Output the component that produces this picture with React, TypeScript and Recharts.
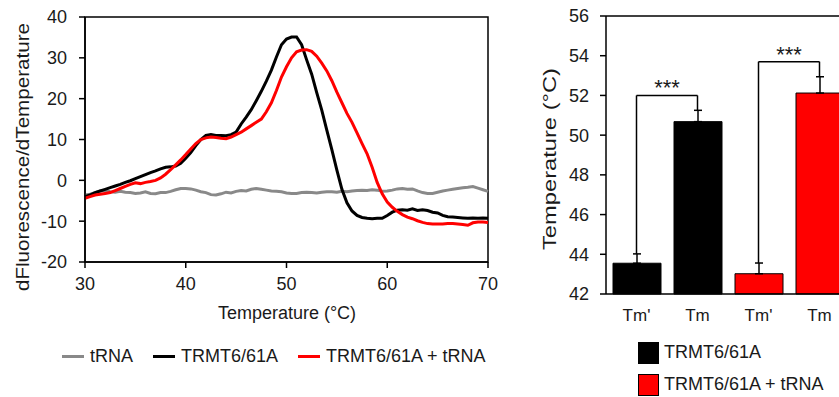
import React from 'react';
import {
  LineChart, Line, XAxis, YAxis, ReferenceArea, Legend,
  BarChart, Bar, Cell, ErrorBar, ReferenceLine,
} from 'recharts';

// ---------- Left panel data ----------
const temps = [
  30, 30.5, 31, 31.5, 32, 32.5, 33, 33.5, 34, 34.5,
  35, 35.5, 36, 36.5, 37, 37.5, 38, 38.5, 39, 39.5,
  40, 40.5, 41, 41.5, 42, 42.5, 43, 43.5, 44, 44.5,
  45, 45.5, 46, 46.5, 47, 47.5, 48, 48.5, 49, 49.5,
  50, 50.5, 51, 51.5, 52, 52.5, 53, 53.5, 54, 54.5,
  55, 55.5, 56, 56.5, 57, 57.5, 58, 58.5, 59, 59.5,
  60, 60.5, 61, 61.5, 62, 62.5, 63, 63.5, 64, 64.5,
  65, 65.5, 66, 66.5, 67, 67.5, 68, 68.5, 69, 69.5,
  70,
];
const tRNA = [
  -3.6, -3.4, -3.0, -2.6, -2.5, -2.8, -2.9, -2.7, -2.9, -3.0,
  -3.2, -3.1, -2.8, -3.2, -3.3, -3.0, -3.0, -2.7, -2.3, -2.0,
  -2.0, -2.1, -2.4, -2.8, -3.0, -3.5, -3.6, -3.3, -2.9, -3.1,
  -2.7, -2.5, -2.6, -2.2, -2.0, -2.2, -2.4, -2.6, -2.7, -2.8,
  -3.1, -3.2, -3.2, -3.0, -2.9, -3.0, -3.1, -2.9, -2.8, -2.8,
  -2.9, -2.7, -2.8, -2.6, -2.5, -2.4, -2.5, -2.3, -2.4, -2.7,
  -2.6, -2.4, -2.1, -2.0, -2.2, -2.1, -2.6, -3.0, -3.2, -3.2,
  -2.9, -2.6, -2.4, -2.2, -2.0, -1.8, -1.7, -1.5, -1.9, -2.3,
  -2.7,
];
const trmt = [
  -4.0, -3.6, -3.0, -2.6, -2.2, -1.8, -1.4, -1.0, -0.5, -0.1,
  0.4, 0.9, 1.4, 1.9, 2.3, 2.8, 3.2, 3.3, 3.5, 4.2,
  5.4, 6.8, 8.5, 10.0, 11.0, 11.2, 11.0, 11.0, 10.9, 11.2,
  11.8, 13.8, 15.5, 17.3, 19.5, 21.8, 24.3, 27.0, 30.2, 33.2,
  34.6, 35.1, 35.1, 33.2, 29.5, 26.0, 21.5, 17.2, 12.3, 7.5,
  2.5, -2.2, -5.5, -7.5, -8.6, -9.1, -9.3, -9.4, -9.3, -9.3,
  -8.6, -7.8, -7.3, -7.2, -7.3, -7.0, -7.4, -7.2, -7.4, -7.8,
  -8.0, -8.6, -8.9, -9.0, -9.1, -9.2, -9.3, -9.2, -9.3, -9.2,
  -9.3,
];
const trmtTRNA = [
  -4.4, -4.0, -3.6, -3.4, -3.2, -3.0, -2.5, -2.0, -1.5, -1.0,
  -0.6, -0.8, -0.5, -0.3, 0.0, 0.6, 1.5, 2.6, 3.8, 5.0,
  6.3, 7.7, 9.0, 10.0, 10.4, 10.6, 10.5, 10.3, 10.2, 10.6,
  11.2, 11.8, 12.6, 13.4, 14.2, 15.0, 16.8, 19.0, 22.0, 25.3,
  27.8, 30.0, 31.5, 31.9, 32.0, 31.6, 30.4, 28.7, 26.8, 24.4,
  21.6, 19.0, 16.4, 14.2, 11.6, 9.0, 6.5, 3.2, -0.5, -3.3,
  -5.3, -6.6, -7.6, -8.4, -9.0, -9.4, -9.9, -10.3, -10.6, -10.7,
  -10.7, -10.7, -10.6, -10.6, -10.7, -10.8, -11.0, -10.4, -10.2, -10.2,
  -10.3,
];
const xTicks = [30, 40, 50, 60, 70];
const yTicks = [-20, -10, 0, 10, 20, 30, 40];
const lineSeries = [
  { key: 'tRNA', name: 'tRNA', color: '#898989' },
  { key: 'trmt', name: 'TRMT6/61A', color: '#000000' },
  { key: 'trmtTRNA', name: 'TRMT6/61A + tRNA', color: '#ff0000' },
];

// ---------- Right panel data ----------
const barIds = ['a', 'b', 'c', 'd'];
const barLabels = ["Tm'", 'Tm', "Tm'", 'Tm'];
const barValues = [43.55, 50.68, 43.02, 52.12];
const barErrors = [0.47, 0.57, 0.54, 0.82];
const barGroups = [0, 0, 1, 1];
const groupNames = ['TRMT6/61A', 'TRMT6/61A + tRNA'];
const groupColors = ['#000000', '#ff0000'];
const barTicks = [42, 44, 46, 48, 50, 52, 54, 56];
const bracketPairs = [[0, 1], [2, 3]];
const bracketHeights = [52.0, 53.7];
const sigLabels = ['***', '***'];

const FONT = '"Liberation Sans", Arial, sans-serif';
const TEXT = '#1a1a1a';

const lineData = temps.map((t, i) => ({
  t,
  tRNA: tRNA[i],
  trmt: trmt[i],
  trmtTRNA: trmtTRNA[i],
}));

const barData = barIds.map((id, i) => ({
  id,
  value: barValues[i],
  err: [0, barErrors[i]],
}));

const LeftLegend = () => (
  <div style={{ display: 'flex', alignItems: 'center', fontFamily: FONT, fontSize: 18, color: TEXT, whiteSpace: 'nowrap' }}>
    {lineSeries.map((s, i) => (
      <div key={s.key} style={{ display: 'flex', alignItems: 'center', marginRight: i < lineSeries.length - 1 ? 20 : 0 }}>
        <div style={{ width: 22, height: 3, background: s.color, marginRight: 6 }} />
        <span>{s.name}</span>
      </div>
    ))}
  </div>
);

const RightLegend = () => (
  <div style={{ fontFamily: FONT, fontSize: 18, color: TEXT, whiteSpace: 'nowrap' }}>
    {groupNames.map((n, i) => (
      <div key={n} style={{ display: 'flex', alignItems: 'center', height: 21, marginBottom: 11 }}>
        <div style={{ width: 19, height: 20, background: groupColors[i], border: '1px solid #000', marginRight: 5 }} />
        <span>{n}</span>
      </div>
    ))}
  </div>
);

export default function App() {
  return (
    <div style={{ position: 'fixed', left: 0, top: 0, width: 839, height: 397, overflow: 'hidden', background: '#fff', fontFamily: FONT }}>
      <div style={{ position: 'absolute', left: 0, top: 0 }}>
        <LineChart width={500} height={397} data={lineData} margin={{ top: 17, right: 12, bottom: 105, left: 40 }}>
          <ReferenceArea x1={30} x2={70} y1={-20} y2={40} fill="none" stroke="#000" strokeWidth={1.5} ifOverflow="visible" />
          <XAxis
            type="number"
            dataKey="t"
            domain={[30, 70]}
            ticks={xTicks}
            height={30}
            tickSize={6}
            tickMargin={9}
            axisLine={{ stroke: '#000', strokeWidth: 1.5 }}
            tickLine={{ stroke: '#000', strokeWidth: 1.5 }}
            tick={{ fill: TEXT, fontSize: 18, fontFamily: FONT }}
            label={() => (
              <text x={287} y={319} textAnchor="middle" fontSize={18} fontFamily={FONT} fill={TEXT}>Temperature (°C)</text>
            )}
          />
          <YAxis
            type="number"
            domain={[-20, 40]}
            ticks={yTicks}
            width={45}
            tickSize={6}
            tickMargin={12}
            axisLine={{ stroke: '#000', strokeWidth: 1.5 }}
            tickLine={{ stroke: '#000', strokeWidth: 1.5 }}
            tick={{ fill: TEXT, fontSize: 18, fontFamily: FONT }}
            label={() => (
              <text x={29} y={157} transform="rotate(-90 29 157)" textAnchor="middle" fontSize={19} fontFamily={FONT} fill={TEXT} textLength={268} lengthAdjust="spacingAndGlyphs">dFluorescence/dTemperature</text>
            )}
          />
          {lineSeries.map((s) => (
            <Line key={s.key} type="linear" dataKey={s.key} name={s.name} stroke={s.color} strokeWidth={3} dot={false} activeDot={false} isAnimationActive={false} />
          ))}
          <Legend
            layout="horizontal"
            align="center"
            verticalAlign="middle"
            content={() => <LeftLegend />}
            wrapperStyle={{ left: 62, top: 346, width: 460, height: 22 }}
          />
        </LineChart>
      </div>

      <div style={{ position: 'absolute', left: 520, top: 0 }}>
        <BarChart width={340} height={397} data={barData} margin={{ top: 16, right: 10, bottom: 73, left: 0 }}>
          <XAxis
            dataKey="id"
            height={30}
            tickLine={false}
            tickSize={6}
            tickMargin={9}
            axisLine={{ stroke: '#000', strokeWidth: 1.5 }}
            tick={{ fill: TEXT, fontSize: 17, fontFamily: FONT }}
            tickFormatter={(v, i) => barLabels[i]}
          />
          <YAxis
            type="number"
            domain={[42, 56]}
            ticks={barTicks}
            width={86}
            tickSize={6}
            tickMargin={11}
            axisLine={{ stroke: '#000', strokeWidth: 1.5 }}
            tickLine={{ stroke: '#000', strokeWidth: 1.5 }}
            tick={{ fill: TEXT, fontSize: 18, fontFamily: FONT }}
            label={() => (
              <text x={36} y={159} transform="rotate(-90 36 159)" textAnchor="middle" fontSize={19} fontFamily={FONT} fill={TEXT} textLength={182} lengthAdjust="spacingAndGlyphs">Temperature (°C)</text>
            )}
          />
          <ReferenceLine y={56} stroke="#000" strokeWidth={1.5} />
          <Bar dataKey="value" barSize={48} stroke="#000" strokeWidth={1} isAnimationActive={false}>
            {barData.map((d, i) => (
              <Cell key={d.id} fill={groupColors[barGroups[i]]} />
            ))}
            <ErrorBar dataKey="err" direction="y" width={4} stroke="#000" strokeWidth={1.5} />
          </Bar>
          {bracketPairs.map(([l, r], k) => (
            <React.Fragment key={k}>
              <ReferenceLine
                segment={[{ x: barIds[l], y: barValues[l] + barErrors[l] }, { x: barIds[l], y: bracketHeights[k] }]}
                stroke="#000" strokeWidth={1.5}
              />
              <ReferenceLine
                segment={[{ x: barIds[l], y: bracketHeights[k] }, { x: barIds[r], y: bracketHeights[k] }]}
                stroke="#000" strokeWidth={1.5}
                label={{ value: sigLabels[k], position: 'top', offset: 0, fontSize: 22, fill: TEXT, fontFamily: FONT }}
              />
              <ReferenceLine
                segment={[{ x: barIds[r], y: bracketHeights[k] }, { x: barIds[r], y: barValues[r] + barErrors[r] }]}
                stroke="#000" strokeWidth={1.5}
              />
            </React.Fragment>
          ))}
          <Legend
            layout="vertical"
            align="center"
            verticalAlign="middle"
            content={() => <RightLegend />}
            wrapperStyle={{ left: 118, top: 342, width: 220, height: 60 }}
          />
        </BarChart>
      </div>
    </div>
  );
}
